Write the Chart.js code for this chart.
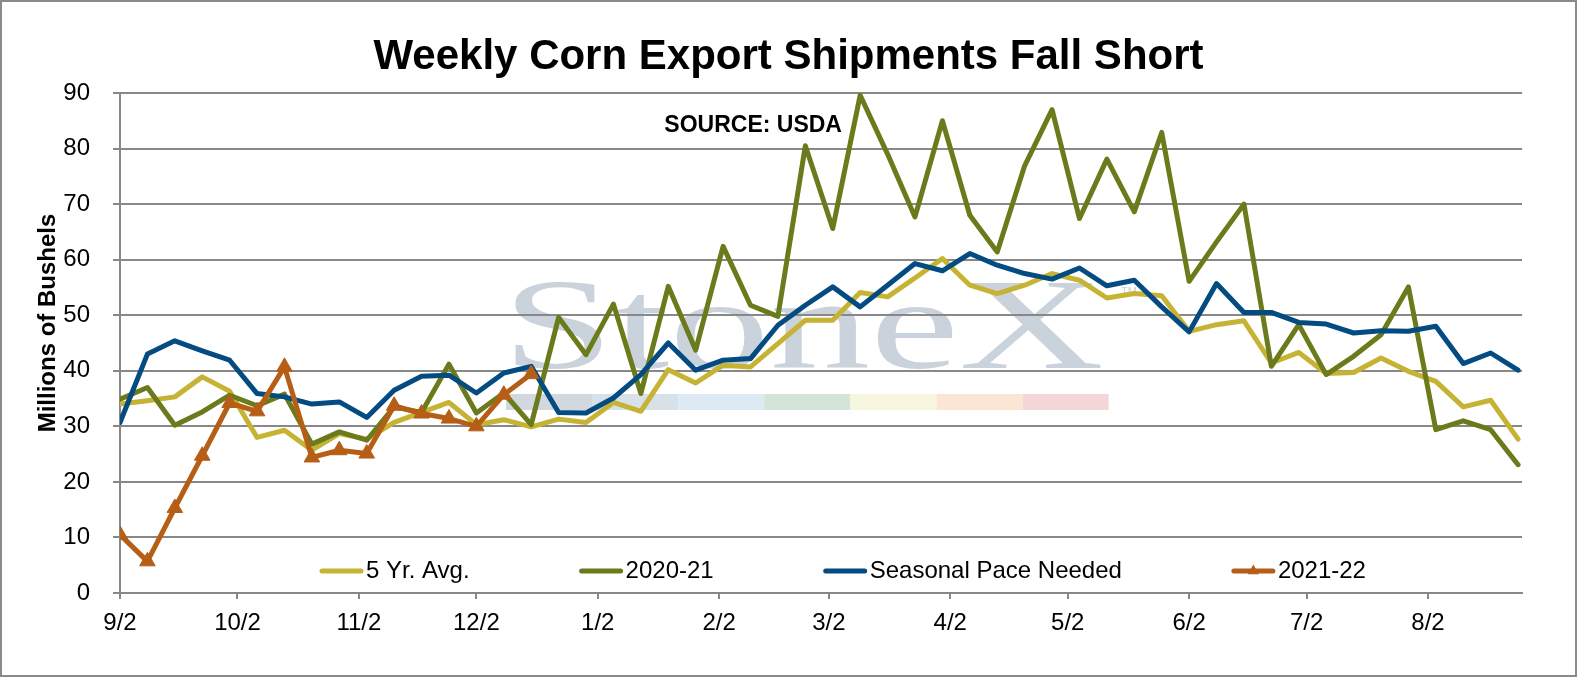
<!DOCTYPE html>
<html>
<head>
<meta charset="utf-8">
<title>Weekly Corn Export Shipments Fall Short</title>
<script src="https://cdn.jsdelivr.net/npm/chart.js@4.4.1/dist/chart.umd.min.js"></script>
<style>
  html, body { margin: 0; padding: 0; background: #fff; }
  #wrap { width: 1577px; height: 677px; }
</style>
</head>
<body>
<div id="wrap"><canvas id="cornChart" width="1577" height="677"></canvas></div>
<script>
'use strict'

// weekly shipments, marketing year starting 9/2
var weekDates = ['9/2', '9/9', '9/16', '9/23', '9/30', '10/7', '10/14', '10/21', '10/28',
  '11/4', '11/11', '11/18', '11/25', '12/2', '12/9', '12/16', '12/23', '12/30',
  '1/6', '1/13', '1/20', '1/27', '2/3', '2/10', '2/17', '2/24',
  '3/3', '3/10', '3/17', '3/24', '3/31', '4/7', '4/14', '4/21', '4/28',
  '5/5', '5/12', '5/19', '5/26', '6/2', '6/9', '6/16', '6/23', '6/30',
  '7/7', '7/14', '7/21', '7/28', '8/4', '8/11', '8/18', '8/25'];
var monthTicks = ['9/2', '10/2', '11/2', '12/2', '1/2', '2/2', '3/2', '4/2', '5/2', '6/2', '7/2', '8/2'];

var fiveYearAvg = [34.0, 34.6, 35.3, 38.9, 36.3, 28.0, 29.3, 25.7, 28.7, 27.7,
  30.7, 32.5, 34.3, 30.3, 31.2, 29.9, 31.3, 30.7, 34.3, 32.7,
  40.2, 37.8, 41.0, 40.7, 44.9, 49.1, 49.1, 54.1, 53.3, 56.7,
  60.2, 55.4, 53.9, 55.4, 57.5, 56.3, 53.1, 53.9, 53.5, 47.1,
  48.3, 49.0, 41.4, 43.3, 39.5, 39.7, 42.3, 39.9, 38.1, 33.5,
  34.7, 27.7];
var shipments2020 = [34.9, 37.0, 30.2, 32.6, 35.6, 33.7, 35.8, 26.8, 29.0, 27.5,
  33.5, 32.5, 41.2, 32.4, 36.0, 30.3, 49.6, 42.9, 52.0, 35.9,
  55.2, 43.7, 62.4, 51.8, 49.8, 80.5, 65.6, 89.6, 79.0, 67.7,
  85.0, 68.0, 61.4, 76.9, 87.0, 67.4, 78.1, 68.6, 82.9, 56.1,
  63.2, 70.0, 40.8, 48.3, 39.3, 42.6, 46.5, 55.1, 29.4, 31.0,
  29.4, 23.1];
var seasonalPace = [30.7, 43.0, 45.4, 43.6, 41.9, 35.9, 35.3, 34.0, 34.4, 31.6,
  36.5, 39.0, 39.2, 36.0, 39.6, 40.8, 32.5, 32.4, 35.1, 39.3,
  45.0, 40.1, 41.9, 42.2, 48.2, 51.8, 55.1, 51.5, 55.4, 59.3,
  58.0, 61.1, 59.0, 57.5, 56.5, 58.5, 55.3, 56.3, 51.5, 47.0,
  55.7, 50.5, 50.5, 48.7, 48.4, 46.8, 47.2, 47.1, 48.0, 41.3,
  43.2, 40.1];
var shipments2021 = [10.5, 5.7, 15.3, 24.7, 34.2, 32.7, 40.7, 24.4, 25.7, 25.1,
  33.7, 32.3, 31.4, 30.0, 35.7, 39.4];

var chartTitle = 'Weekly Corn Export Shipments Fall Short';
var yTitle = 'Millions of Bushels';
var sourceNote = 'SOURCE: USDA';

var FONT = '"Liberation Sans", Arial, sans-serif';
Chart.defaults.font.family = FONT;
Chart.defaults.color = '#000';

// days since 9/2 for a "m/d" label
function dayOf(label) {
  var parts = label.split('/');
  var month = Number(parts[0]);
  var year = month >= 9 ? 2021 : 2022;
  return (Date.UTC(year, month - 1, Number(parts[1])) - Date.UTC(2021, 8, 2)) / 86400000;
}

function toPoints(values) {
  return values.map(function (v, i) {
    return { x: dayOf(weekDates[i]), y: v };
  });
}

var lineStyle = {
  borderWidth: 5,
  pointRadius: 0,
  tension: 0,
  fill: false,
  borderJoinStyle: 'round',
  borderCapStyle: 'round'
};

var datasets = [
  Object.assign({ label: '5 Yr. Avg.', data: toPoints(fiveYearAvg), borderColor: '#C6B334', order: 4 }, lineStyle),
  Object.assign({ label: '2020-21', data: toPoints(shipments2020), borderColor: '#6B7B1B', order: 3 }, lineStyle),
  Object.assign({ label: 'Seasonal Pace Needed', data: toPoints(seasonalPace), borderColor: '#034B80', order: 2 }, lineStyle),
  Object.assign({}, lineStyle, {
    label: '2021-22', data: toPoints(shipments2021), borderColor: '#B65E16',
    pointStyle: 'triangle', pointRadius: 9, pointBackgroundColor: '#B65E16',
    pointBorderColor: '#B65E16', pointBorderWidth: 1, order: 1
  })
];

// frame, background and the faint logo behind the grid
var backdrop = {
  id: 'backdrop',
  beforeDraw: function (chart) {
    var ctx = chart.ctx;
    var area = chart.chartArea;
    ctx.save();
    ctx.fillStyle = '#fff';
    ctx.fillRect(0, 0, chart.width, chart.height);
    ctx.strokeStyle = '#8a8a8a';
    ctx.lineWidth = 2;
    ctx.strokeRect(1, 1, chart.width - 2, chart.height - 2);

    ctx.fillStyle = '#CAD2DC';
    ctx.font = '130px "Liberation Serif", "DejaVu Serif", serif';
    ctx.textBaseline = 'alphabetic';
    var w = ctx.measureText('StoneX').width;
    ctx.save();
    ctx.translate(area.left + 382, area.top + 275);
    ctx.scale(602 / w, 1);
    ctx.fillText('StoneX', 0, 0);
    ctx.restore();
    ctx.font = '11px ' + FONT;
    ctx.fillText('TM', area.left + 1001, area.top + 202);

    var barColors = ['#D2D8DF', '#D8E0E8', '#DDEAF3', '#D3E4D9', '#F7F6DF', '#F9E7D4', '#F2D6D8'];
    for (var i = 0; i < barColors.length; i++) {
      ctx.fillStyle = barColors[i];
      ctx.fillRect(area.left + 386 + i * 86.1, area.top + 301, 86.1, 16);
    }
    ctx.restore();
  }
};

// title, axis title, source note and the legend inside the plot
var overlay = {
  id: 'overlay',
  afterDraw: function (chart) {
    var ctx = chart.ctx;
    var area = chart.chartArea;
    var x = chart.scales.x;
    var y = chart.scales.y;
    ctx.save();
    ctx.fillStyle = '#000';
    ctx.textBaseline = 'middle';

    ctx.textAlign = 'center';
    ctx.font = 'bold 42px ' + FONT;
    ctx.fillText(chartTitle, chart.width / 2, 57);

    ctx.save();
    ctx.translate(48, 323);
    ctx.rotate(-Math.PI / 2);
    ctx.font = 'bold 24px ' + FONT;
    ctx.fillText(yTitle, 0, 0);
    ctx.restore();

    ctx.textAlign = 'left';
    ctx.font = 'bold 23px ' + FONT;
    ctx.fillText(sourceNote, x.getPixelForValue(139), y.getPixelForValue(84.2));

    ctx.font = '24px ' + FONT;
    var lx = area.left + 200;
    var ly = area.bottom - 22;
    chart.data.datasets.forEach(function (ds) {
      ctx.strokeStyle = ds.borderColor;
      ctx.lineWidth = 5;
      ctx.lineCap = 'round';
      ctx.beginPath();
      ctx.moveTo(lx + 2, ly);
      ctx.lineTo(lx + 41, ly);
      ctx.stroke();
      if (ds.pointStyle === 'triangle') {
        var r = 6.5;
        var cx = lx + 21.5;
        ctx.fillStyle = ds.borderColor;
        ctx.beginPath();
        ctx.moveTo(cx, ly - r);
        ctx.lineTo(cx + r * 0.866, ly + r / 2);
        ctx.lineTo(cx - r * 0.866, ly + r / 2);
        ctx.closePath();
        ctx.fill();
      }
      ctx.fillStyle = '#000';
      ctx.fillText(ds.label, lx + 46, ly);
      lx += 46 + ctx.measureText(ds.label).width + 110;
    });
    ctx.restore();
  }
};

new Chart(document.getElementById('cornChart'), {
  type: 'line',
  data: { datasets: datasets },
  plugins: [backdrop, overlay],
  options: {
    responsive: false,
    animation: false,
    layout: { padding: { top: 93, right: 55, bottom: 0, left: 4 } },
    plugins: {
      legend: { display: false },
      tooltip: { enabled: false },
      title: { display: false }
    },
    scales: {
      x: {
        type: 'linear',
        min: 0,
        max: 358,
        afterFit: function (scale) { scale.height = 84; },
        afterBuildTicks: function (scale) {
          scale.ticks = monthTicks.map(function (t) { return { value: dayOf(t) }; });
        },
        ticks: {
          callback: function (value, index) { return monthTicks[index]; },
          autoSkip: false,
          maxRotation: 0,
          padding: 10,
          color: '#000',
          font: { size: 24 }
        },
        grid: { drawOnChartArea: false, color: '#888', lineWidth: 2, tickLength: 6 },
        border: { color: '#888', width: 2 }
      },
      y: {
        min: 0,
        max: 90,
        afterFit: function (scale) { scale.width = 116; },
        ticks: { stepSize: 10, padding: 23, color: '#000', font: { size: 24 } },
        grid: { color: '#888', lineWidth: 2, tickLength: 7 },
        border: { color: '#888', width: 2 }
      }
    }
  }
});
</script>
</body>
</html>
